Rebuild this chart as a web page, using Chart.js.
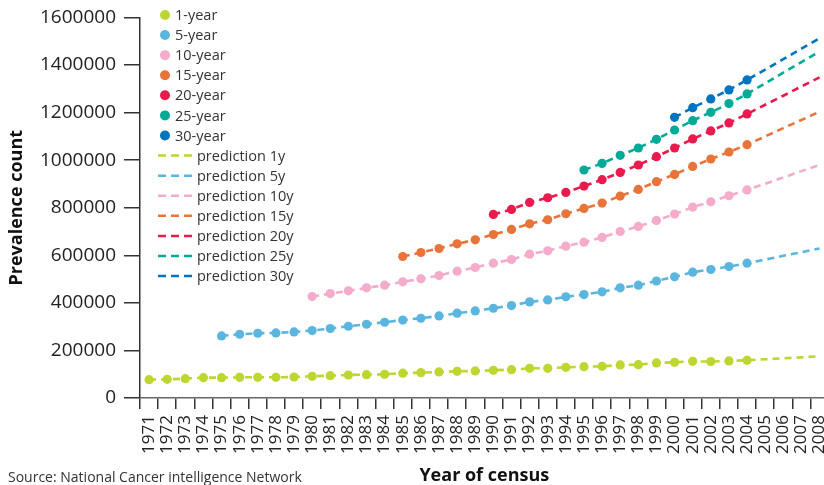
<!DOCTYPE html>
<html lang="en">
<head>
  <meta charset="UTF-8">
  <title>Prevalence count by year of census</title>
  <script src="https://cdn.jsdelivr.net/npm/chart.js"></script>
  <style>
    html, body { margin: 0; padding: 0; background: #fff; overflow: hidden; }
    .contenedor { position: relative; width: 846px; height: 485px; }
    .fuente {
      position: absolute; left: 8px; top: 467px;
      font: 14px "Open Sans", sans-serif; color: #333; white-space: nowrap;
    }
  </style>
</head>
<body>
  <div class="contenedor">
    <canvas id="grafico"></canvas>
    <div class="fuente">Source: National Cancer intelligence Network</div>
  </div>

  <script>
    // years on the x axis
    const years = [];
    for (let y = 1971; y <= 2008; y++) years.push(String(y));

    const yTicks = [0, 200000, 400000, 600000, 800000, 1000000, 1200000, 1400000, 1600000];

    // observed prevalence (first year given per series, values up to 2004)
    const start1y = 1971;
    const obs1y = [77100, 78500, 81300, 85500, 85500, 87000, 87000, 87000, 88400, 91200,
      94000, 96800, 98200, 99600, 104500, 106700, 109500, 112300, 113700, 116500,
      119300, 124900, 124900, 129100, 131900, 133300, 138900, 140300, 147400, 150200,
      154400, 153000, 155800, 158600];
    const start5y = 1975;
    const obs5y = [261100, 268000, 272200, 273700, 277900, 283500, 292000, 301800, 310100, 318600,
      327700, 335400, 345300, 356500, 366300, 377500, 388800, 404200, 412600, 425300,
      435100, 446300, 463200, 474400, 492000, 509500, 529200, 540400, 552800, 567000];
    const start10y = 1980;
    const obs10y = [426500, 439200, 450500, 463200, 474400, 488500, 501100, 515100, 533400, 548800,
      567000, 582400, 604900, 619000, 638600, 655400, 675100, 700200, 721300, 746500,
      773300, 802900, 825300, 850500, 875000];
    const start15y = 1985;
    const obs15y = [595000, 611800, 628600, 648400, 665300, 687600, 708700, 732600, 749500, 774700,
      797000, 819800, 849300, 877000, 909500, 940200, 973900, 1005000, 1034500, 1065300];
    const start20y = 1990;
    const obs20y = [771800, 792900, 822300, 842100, 864400, 891300, 917900, 948600, 979800, 1014700,
      1051300, 1089200, 1122900, 1156600, 1194500];
    const start25y = 1995;
    const obs25y = [958700, 986600, 1020300, 1051300, 1087700, 1127000, 1166300, 1201400, 1237900, 1278600];
    const start30y = 2000;
    const obs30y = [1180200, 1221000, 1257700, 1295500, 1337600];

    // predicted values 2005-2008
    const fut1y = [163000, 167000, 171000, 175600];
    const fut5y = [582000, 598000, 613000, 628600];
    const fut10y = [901000, 927000, 954000, 979800];
    const fut15y = [1100000, 1135000, 1169000, 1204200];
    const fut20y = [1233000, 1271000, 1310000, 1348600];
    const fut25y = [1323000, 1368000, 1412000, 1456800];
    const fut30y = [1381000, 1425000, 1469000, 1512800];

    const seriesNames = ['1-year', '5-year', '10-year', '15-year', '20-year', '25-year', '30-year'];
    const predNames = ['prediction 1y', 'prediction 5y', 'prediction 10y', 'prediction 15y',
      'prediction 20y', 'prediction 25y', 'prediction 30y'];
    const colores = ['#bfd631', '#5bb6df', '#f5abcb', '#e8743a', '#ea1a4c', '#00aa98', '#0074c1'];

    const starts = [start1y, start5y, start10y, start15y, start20y, start25y, start30y];
    const observed = [obs1y, obs5y, obs10y, obs15y, obs20y, obs25y, obs30y];
    const future = [fut1y, fut5y, fut10y, fut15y, fut20y, fut25y, fut30y];

    function alinear(startYear, valores) {
      const out = years.map(() => null);
      const i0 = startYear - 1971;
      valores.forEach((v, i) => { out[i0 + i] = v; });
      return out;
    }

    const datasets = [];
    observed.forEach((vals, i) => {
      datasets.push({
        label: seriesNames[i],
        data: alinear(starts[i], vals),
        showLine: false,
        pointRadius: 4.6,
        pointBorderWidth: 0,
        pointBackgroundColor: colores[i],
        borderColor: colores[i],
        backgroundColor: colores[i],
        order: 0
      });
    });
    observed.forEach((vals, i) => {
      datasets.push({
        label: predNames[i],
        data: alinear(starts[i], vals.concat(future[i])),
        borderColor: colores[i],
        borderWidth: 2.6,
        borderDash: [7, 5],
        pointRadius: 0,
        tension: 0,
        fill: false,
        order: 1
      });
    });

    // legend drawn inside the plot, top left
    const leyenda = {
      id: 'leyenda',
      afterDraw(chart) {
        const c = chart.ctx;
        c.save();
        c.font = '14.5px "Open Sans", sans-serif';
        c.textBaseline = 'middle';
        const paso = 20.08;
        seriesNames.forEach((name, i) => {
          const y = 15 + i * paso;
          c.beginPath();
          c.fillStyle = colores[i];
          c.arc(165, y, 5, 0, Math.PI * 2);
          c.fill();
          c.fillStyle = '#333';
          c.fillText(name, 175, y + 1);
        });
        predNames.forEach((name, i) => {
          const y = 15 + (i + 7) * paso;
          c.beginPath();
          c.strokeStyle = colores[i];
          c.lineWidth = 2.5;
          c.setLineDash([8, 5]);
          c.moveTo(158, y);
          c.lineTo(192, y);
          c.stroke();
          c.setLineDash([]);
          c.fillStyle = '#333';
          c.fillText(name, 197, y + 1);
        });
        c.restore();
      }
    };

    const ctx = document.getElementById('grafico').getContext('2d');
    new Chart(ctx, {
      type: 'line',
      data: { labels: years, datasets: datasets },
      options: {
        responsive: true,
        maintainAspectRatio: false,
        animation: false,
        spanGaps: false,
        layout: { padding: { left: 0, right: 1, top: 13, bottom: 0 } },
        plugins: { legend: { display: false }, tooltip: { enabled: false } },
        scales: {
          x: {
            type: 'category',
            offset: true,
            border: { color: '#666', width: 1.5 },
            grid: { offset: true, drawOnChartArea: false, tickLength: 11, color: '#333', lineWidth: 1.5 },
            ticks: {
              minRotation: 90, maxRotation: 90, autoSkip: false, padding: 6,
              color: '#222', font: { family: '"Open Sans", sans-serif', size: 17 }
            },
            title: {
              display: true, text: 'Year of census', color: '#111',
              font: { family: '"Open Sans", sans-serif', size: 18, weight: 'bold', lineHeight: 1.0 },
              padding: { top: 0, bottom: 0 }
            },
            afterFit(scale) { scale.height = 87; }
          },
          y: {
            min: 0,
            max: 1600000,
            border: { color: '#333', width: 1.5 },
            grid: { drawOnChartArea: false, tickLength: 16, color: '#333', lineWidth: 1.5 },
            afterBuildTicks(scale) { scale.ticks = yTicks.map(v => ({ value: v })); },
            ticks: {
              padding: 8, color: '#222',
              font: { family: '"Open Sans", sans-serif', size: 19, lineHeight: 1.0 },
              callback: v => String(v)
            },
            title: {
              display: true, text: 'Prevalence count', color: '#111',
              font: { family: '"Open Sans", sans-serif', size: 18, weight: 'bold' },
              padding: { top: 6, bottom: 0 }
            },
            afterFit(scale) { scale.width = 140; }
          }
        }
      },
      plugins: [leyenda]
    });
  </script>
</body>
</html>
